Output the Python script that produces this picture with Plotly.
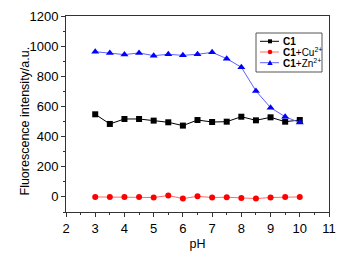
import plotly.graph_objects as go

ph = [3, 3.5, 4, 4.5, 5, 5.5, 6, 6.5, 7, 7.5, 8, 8.5, 9, 9.5, 10]
c1 = [548, 484, 517, 517, 506, 495, 473, 510, 497, 499, 532, 508, 528, 499, 510]
c1_cu = [0, 0, 0, 0, -4, 9, -11, 4, -4, -2, -7, -11, -4, 0, 0]
c1_zn = [963, 955, 944, 955, 937, 946, 939, 946, 959, 917, 860, 703, 592, 532, 493]

series_names = ["<b>C1</b>", "<b>C1</b>+Cu<sup>2+</sup>", "<b>C1</b>+Zn<sup>2+</sup>"]
series_values = [c1, c1_cu, c1_zn]
marker_colors = ["black", "red", "blue"]
line_colors = ["black", "#ff6a6a", "#6060ff"]
symbols = ["square", "circle", "triangle-up"]
sizes = [6, 6, 7]

FONT = "Liberation Sans, Arial"
W, H = 350, 257
L, R, T, B = 66, 21, 16, 45

fig = go.Figure()
for name, vals, mc, lc, sym, sz in zip(series_names, series_values, marker_colors, line_colors, symbols, sizes):
    fig.add_trace(go.Scatter(x=ph, y=vals, mode="lines+markers", name=name,
                             line=dict(color=lc, width=1),
                             marker=dict(symbol=sym, size=sz, color=mc),
                             showlegend=False))

axis_common = dict(showline=True, linecolor="#333333", linewidth=1, mirror=True,
                   ticks="outside", ticklen=4, tickcolor="#333333", showgrid=False,
                   zeroline=False, tickfont=dict(family=FONT, size=13, color="black"))

fig.update_xaxes(range=[2, 11], dtick=1, tick0=2,
                 minor=dict(ticks="outside", ticklen=2, dtick=0.5, tickcolor="#333333"),
                 title=dict(text="pH", font=dict(family=FONT, size=12.5, color="black"), standoff=4),
                 **axis_common)
fig.update_yaxes(range=[-100, 1200], dtick=200, tick0=0,
                 minor=dict(ticks="outside", ticklen=2, dtick=100, tickcolor="#333333"),
                 **axis_common)

# manual compact legend (pixel positions converted to paper coordinates)
pw, ph_px = W - L - R, H - T - B
def px(x):
    return (x - L) / pw
def py(y):
    return (T + ph_px - y) / ph_px

shapes = [dict(type="rect", xref="paper", yref="paper", x0=px(256), x1=px(322), y0=py(72), y1=py(33),
               line=dict(color="#555555", width=1), fillcolor="white", layer="above")]
annotations = [dict(xref="paper", yref="paper", x=px(25), y=py(121.5), text="Fluorescence intensity/a.u.",
                    textangle=-90, showarrow=False, xanchor="center", yanchor="middle",
                    font=dict(family=FONT, size=12.5, color="black"))]
rows = [41.3, 52.0, 62.7]
for name, mc, lc, sym, ry in zip(series_names, marker_colors, line_colors, symbols, rows):
    shapes.append(dict(type="line", xref="paper", yref="paper", x0=px(260), x1=px(279), y0=py(ry), y1=py(ry),
                       line=dict(color=lc, width=1), layer="above"))
    cx = 270
    if sym == "square":
        shapes.append(dict(type="rect", xref="paper", yref="paper", x0=px(cx - 2), x1=px(cx + 2),
                           y0=py(ry + 2), y1=py(ry - 2), fillcolor=mc, line=dict(width=0), layer="above"))
    elif sym == "circle":
        shapes.append(dict(type="circle", xref="paper", yref="paper", x0=px(cx - 2.3), x1=px(cx + 2.3),
                           y0=py(ry + 2.3), y1=py(ry - 2.3), fillcolor=mc, line=dict(width=0), layer="above"))
    else:
        path = "M {:.5f},{:.5f} L {:.5f},{:.5f} L {:.5f},{:.5f} Z".format(
            px(cx - 2.7), py(ry + 2.2), px(cx + 2.7), py(ry + 2.2), px(cx), py(ry - 2.8))
        shapes.append(dict(type="path", xref="paper", yref="paper", path=path, fillcolor=mc,
                           line=dict(width=0), layer="above"))
    annotations.append(dict(xref="paper", yref="paper", x=px(281), y=py(ry), text=name, showarrow=False,
                            xanchor="left", yanchor="middle", font=dict(family=FONT, size=10, color="black")))

fig.update_layout(
    width=W, height=H,
    margin=dict(l=L, r=R, t=T, b=B, autoexpand=False),
    plot_bgcolor="white", paper_bgcolor="white",
    font=dict(family=FONT, size=11, color="black"),
    shapes=shapes, annotations=annotations,
    showlegend=False,
)

fig.write_html("out.html", config={"displayModeBar": False},
               post_script="document.body.style.margin='0';")
